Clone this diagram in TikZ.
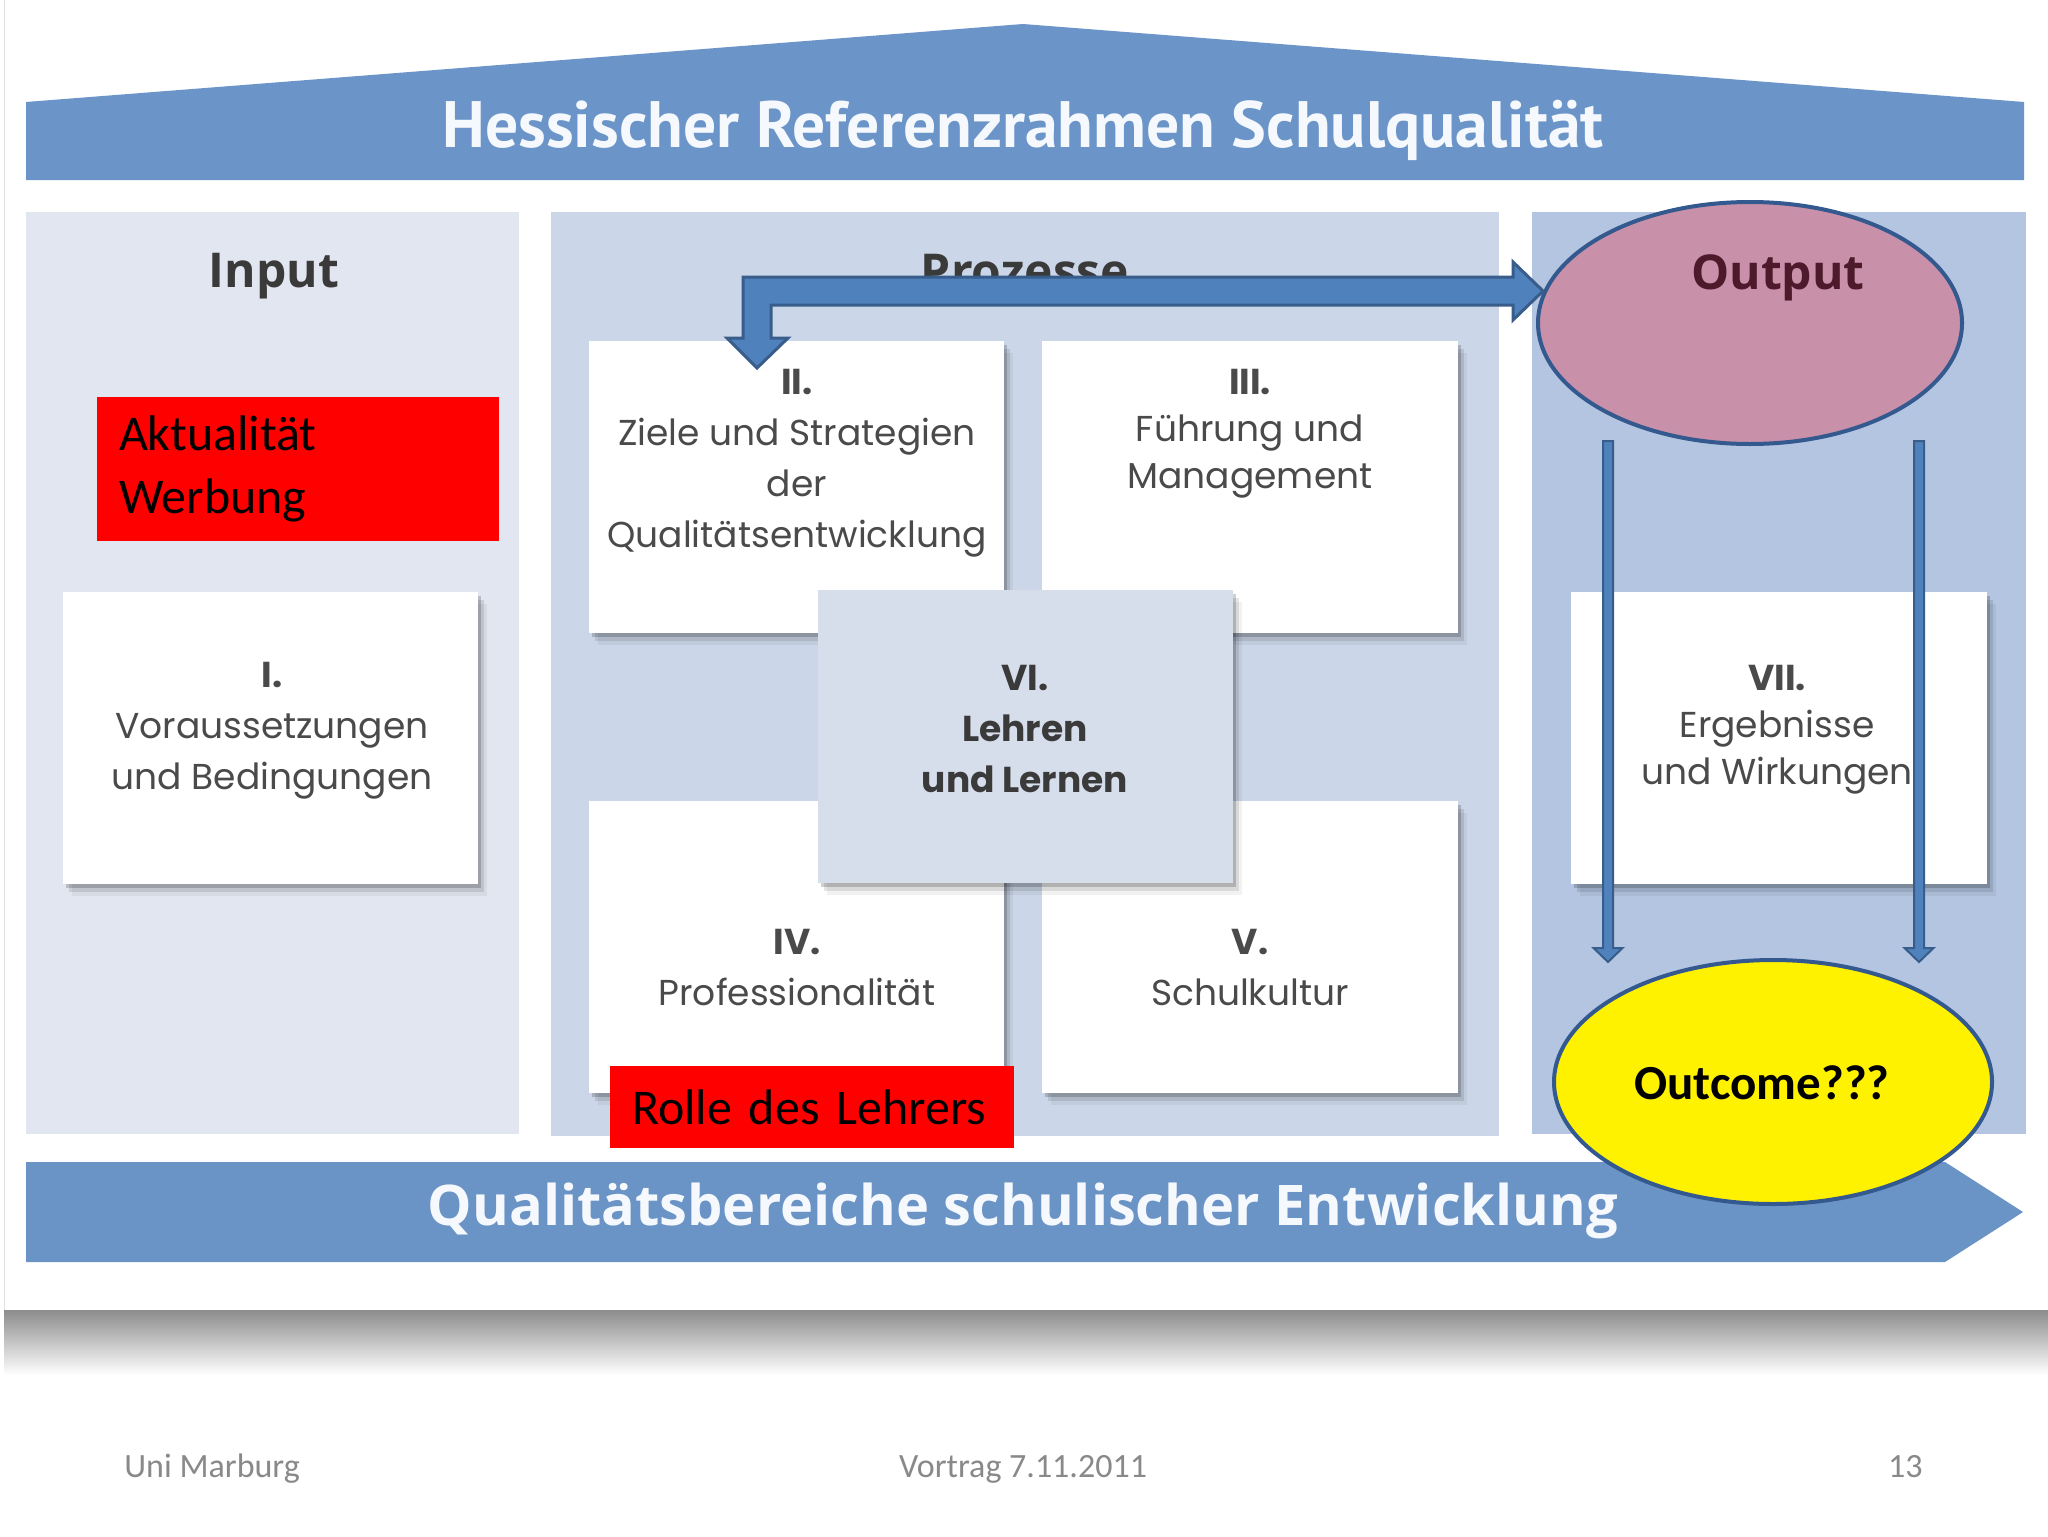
\documentclass[tikz,border=0pt]{standalone}
\usepackage{fontspec}
\setmainfont{Carlito}
\newfontfamily\carlito{Carlito}
\newfontfamily\ptsans{PT Sans}
\newfontfamily\opensans{Open Sans}
\newfontfamily\poppins{Poppins}
\usetikzlibrary{shadows,shapes.geometric}

\definecolor{roofblue}{HTML}{6B95C8}
\definecolor{bannerblue}{HTML}{6A93C6}
\definecolor{colin}{HTML}{E1E6F0}
\definecolor{colproc}{HTML}{CBD6E8}
\definecolor{colout}{HTML}{B3C5E1}
\definecolor{boxvi}{HTML}{D6DDEB}
\definecolor{arrowfill}{HTML}{4F81BD}
\definecolor{arrowline}{HTML}{385D8A}
\definecolor{ellline}{HTML}{33598F}
\definecolor{outpink}{HTML}{C990A9}
\definecolor{boxtextc}{HTML}{4A4A4A}
\definecolor{headc}{HTML}{3A3A3A}
\definecolor{footc}{HTML}{898989}
\definecolor{outtext}{HTML}{4D1A2C}
\definecolor{titlewhite}{HTML}{F5F8FC}

\tikzset{
  colbg/.style={rectangle, inner sep=0pt, outer sep=0pt, draw=none},
  softshadow/.style={
    drop shadow={shadow xshift=1.5pt, shadow yshift=-2pt, opacity=.18, fill=black},
    drop shadow={shadow xshift=3pt, shadow yshift=-4pt, opacity=.10, fill=black},
    drop shadow={shadow xshift=4.5pt, shadow yshift=-6pt, opacity=.05, fill=black}},
  card/.style={rectangle, inner sep=0pt, outer sep=0pt, draw=none, fill=white,
    minimum width=207.5pt, minimum height=146pt, softshadow},
  cardtext/.style={align=center, font=\poppins\fontsize{18}{25.5}\selectfont,
    text=boxtextc, inner sep=0pt},
  cardtextb/.style={cardtext, font=\poppins\fontsize{18}{23.5}\selectfont},
  header/.style={font=\opensans\bfseries\fontsize{24}{28}\selectfont, text=headc, anchor=base},
  redbox/.style={rectangle, fill=red, inner ysep=0pt, inner xsep=11pt, outer sep=0pt,
    font=\carlito\fontsize{25}{31.5}\selectfont, text=black, align=left},
  blockarrow/.style={fill=arrowfill, draw=arrowline, line width=1.5pt, line join=miter},
  thinarrow/.style={fill=arrowfill, draw=arrowline, line width=1pt, line join=miter},
  ellbase/.style={ellipse, draw=ellline, line width=2pt, inner sep=0pt, outer sep=0pt},
  foot/.style={font=\carlito\fontsize{17}{20}\selectfont, text=footc, inner sep=0pt},
}

\begin{document}
\begin{tikzpicture}[x=0.5pt,y=-0.5pt]
\useasboundingbox (0,0) rectangle (2048,1536);
\fill[white] (0,0) rectangle (2048,1536);

% slide edge and shadow
\shade[top color=black!45, bottom color=white] (4,1310) rectangle (2048,1375);
\draw[black!12, line width=0.5pt] (4,0) -- (4,1310);

% roof
\fill[roofblue] (26,180) -- (26,102) -- (1023,24) -- (2024,102) -- (2024,180) -- cycle;
\node[anchor=base, text=titlewhite, font=\ptsans\bfseries\fontsize{32.8}{36}\selectfont]
  (title) at (1023,148) {Hessischer Referenzrahmen Schulqualität};

% columns
\node[colbg, fill=colin, minimum width=246.5pt, minimum height=461pt] (colIn) at (272.5,673) {};
\node[colbg, fill=colproc, minimum width=474pt, minimum height=462pt] (colProc) at (1025,674) {};
\node[colbg, fill=colout, minimum width=247pt, minimum height=461pt] (colOut) at (1779,673) {};

% headers
\node[header] (hIn) at (274,287) {Input};
\node[header] (hProc) at (1025,288) {Prozesse};

% cards
\node[card] (boxI) at (270.5,738) {};
\node[card] (boxII) at (796.5,487) {};
\node[card, minimum width=208pt] (boxIII) at (1250,487) {};
\node[card] (boxIV) at (796.5,947) {};
\node[card, minimum width=208pt] (boxV) at (1250,947) {};
\node[card, fill=boxvi, minimum height=146.5pt] (boxVI) at (1025.5,736.5) {};
\node[card, minimum width=208pt] (boxVII) at (1779,738) {};

\node[cardtext] (tI) at (272,731) {{\bfseries I.}\\Voraussetzungen\\und Bedingungen};
\node[cardtext] (tII) at (797,463) {{\bfseries II.}\\Ziele und Strategien\\der\\Qualitätsentwicklung};
\node[cardtextb] (tIII) at (1250,434) {{\bfseries III.}\\Führung und\\Management};
\node[cardtext, text=headc, font=\poppins\bfseries\fontsize{18}{25.5}\selectfont] (tVI) at (1025,729) {VI.\\Lehren\\und Lernen};
\node[cardtext] (tIV) at (797,968) {{\bfseries IV.}\\Professionalität};
\node[cardtext] (tV) at (1250,968) {{\bfseries V.}\\Schulkultur};
\node[cardtextb] (tVII) at (1777,730) {{\bfseries VII.}\\Ergebnisse\\und Wirkungen};

% red boxes
\node[redbox, text width=179pt, minimum height=72pt] (aktual) at (298,469) {Aktualität\\Werbung};
\node[redbox, text width=180pt, minimum height=41pt] (rolle) at (812,1107) {Rolle des Lehrers};

% output ellipse
\node[ellbase, fill=outpink, minimum width=212pt, minimum height=121pt] (outEll) at (1750,323) {};
\node[header, text=outtext] (hOut) at (1778,289) {Output};

% big bent block arrow (from Output back to II)
\coordinate (tipR) at (1543,291);
\coordinate (tipD) at (757,368);
\draw[blockarrow] (743,338) -- (743,277) -- (1513,277) -- (1513,262) -- (tipR)
  -- (1513,320) -- (1513,305) -- (771,305) -- (771,338) -- (788,338) -- (tipD)
  -- (727,338) -- cycle;

% thin arrows from Output down to Outcome
\draw[thinarrow] (1603,441) -- (1613,441) -- (1613,948) -- (1622.5,948) -- (1608,962)
  -- (1593.5,948) -- (1603,948) -- cycle;
\draw[thinarrow] (1914,441) -- (1924,441) -- (1924,948) -- (1933.5,948) -- (1919,962)
  -- (1904.5,948) -- (1914,948) -- cycle;

% bottom banner
\fill[bannerblue] (26,1162) -- (1945,1162) -- (2023,1212) -- (1945,1262) -- (26,1262) -- cycle;
\node[anchor=base, text=titlewhite, font=\opensans\bfseries\fontsize{28}{32}\selectfont]
  (banner) at (1023,1225) {Qualitätsbereiche schulischer Entwicklung};

% outcome ellipse
\node[ellbase, fill=yellow, minimum width=219pt, minimum height=122pt] (outcome) at (1773,1082) {};
\node[anchor=base, font=\carlito\bfseries\fontsize{24.5}{28}\selectfont, text=black]
  (outcomeT) at (1762,1099) {Outcome???};

% footer
\node[foot, anchor=base west] (fL) at (124,1477) {Uni Marburg};
\node[foot, anchor=base] (fC) at (1023,1477) {Vortrag 7.11.2011};
\node[foot, anchor=base east] (fR) at (1923,1477) {13};
\end{tikzpicture}
\end{document}
